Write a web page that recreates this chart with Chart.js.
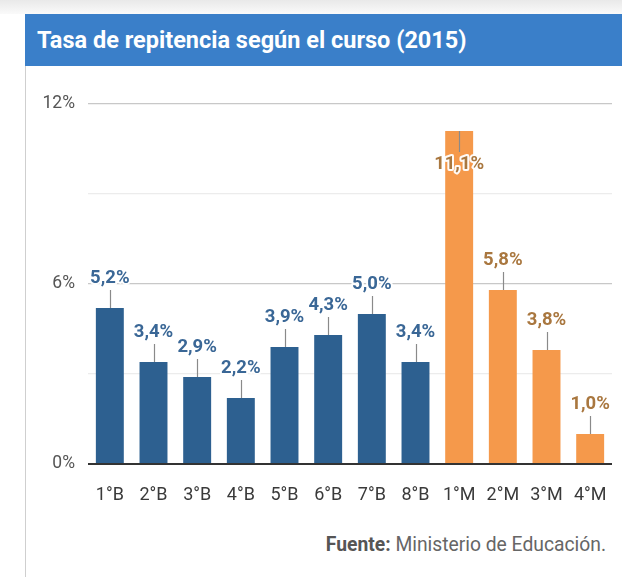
<!DOCTYPE html>
<html>
<head>
<meta charset="utf-8">
<script src="https://cdn.jsdelivr.net/npm/chart.js@4"></script>
<style>
  html, body { margin:0; padding:0; background:#fff; width:622px; height:577px; overflow:hidden; font-family: Roboto, "Noto Sans", sans-serif; }
  #topband { position:absolute; left:0; top:0; width:622px; height:14px; background:linear-gradient(#e9e9e9, #fafafa); }
  #leftline { position:absolute; left:25px; top:66px; width:1px; height:511px; background:#cfcfcf; }
  #header { position:absolute; left:25px; top:14px; width:597px; height:52px; background:#3a7fc9; }
  #title { position:absolute; left:12px; top:0; line-height:52px; color:#fff; font-weight:bold; font-size:23.5px; letter-spacing:0px; }
  #wrap { position:absolute; left:26px; top:66px; width:596px; height:450px; }
  #source { position:absolute; right:16px; top:533px; font-size:19.3px; color:#666; }
  #source b { color:#555; }
</style>
</head>
<body>
<div id="topband"></div>
<div id="header"><div id="title">Tasa de repitencia según el curso (2015)</div></div>
<div id="leftline"></div>
<div id="wrap"><canvas id="c"></canvas></div>
<div id="source"><b>Fuente:</b> Ministerio de Educación.</div>
<script>
const categories = ['1°B','2°B','3°B','4°B','5°B','6°B','7°B','8°B','1°M','2°M','3°M','4°M'];
const values = [5.2, 3.4, 2.9, 2.2, 3.9, 4.3, 5.0, 3.4, 11.1, 5.8, 3.8, 1.0];
const yTickLabels = {0:'0%', 6:'6%', 12:'12%'};

const isMedia = c => c.endsWith('M');
const barColors = categories.map(c => isMedia(c) ? '#f5994b' : '#2d6090');
const textColors = categories.map(c => isMedia(c) ? '#a9773f' : '#3a6796');

const labelPlugin = {
  id: 'valueLabels',
  afterDatasetsDraw(chart) {
    const ctx = chart.ctx;
    const meta = chart.getDatasetMeta(0);
    const top = chart.chartArea.top;
    ctx.save();
    ctx.font = 'bold 18.5px Roboto, sans-serif';
    ctx.textAlign = 'center';
    ctx.textBaseline = 'middle';
    meta.data.forEach((bar, i) => {
      const txt = values[i].toFixed(1).replace('.', ',') + '%';
      let ly, l1, l2;
      if (bar.y - 40 < top) {
        l1 = bar.y; l2 = bar.y + 21; ly = bar.y + 33;
      } else {
        l1 = bar.y; l2 = bar.y - 18; ly = bar.y - 30;
      }
      ctx.strokeStyle = '#8a8a8a';
      ctx.lineWidth = 1.2;
      ctx.beginPath();
      ctx.moveTo(Math.round(bar.x) + 0.5, l1);
      ctx.lineTo(Math.round(bar.x) + 0.5, l2);
      ctx.stroke();
      ctx.lineJoin = 'round';
      ctx.strokeStyle = 'rgba(255,255,255,0.95)';
      ctx.lineWidth = 4;
      ctx.strokeText(txt, bar.x, ly);
      ctx.fillStyle = textColors[i];
      ctx.fillText(txt, bar.x, ly);
    });
    ctx.restore();
  }
};

new Chart(document.getElementById('c'), {
  type: 'bar',
  data: {
    labels: categories,
    datasets: [{
      data: values,
      backgroundColor: barColors,
      borderWidth: 0,
      categoryPercentage: 0.64,
      barPercentage: 1.0
    }]
  },
  options: {
    responsive: true,
    maintainAspectRatio: false,
    animation: false,
    layout: { padding: { top: 38, right: 10, bottom: 0, left: 0 } },
    plugins: { legend: { display: false }, tooltip: { enabled: false } },
    scales: {
      x: {
        afterFit(s) { s.height = 52; },
        grid: { display: false },
        border: { display: false },
        ticks: { color: '#3a3a3a', font: { family: 'Roboto', size: 18 }, padding: 13, maxRotation: 0 }
      },
      y: {
        min: 0, max: 12,
        afterFit(s) { s.width = 62; },
        border: { display: false },
        grid: {
          drawTicks: false,
          color: c => c.tick.value === 0 ? '#333' : (c.tick.value % 6 === 0 ? '#c8c8c8' : '#ececec'),
          lineWidth: c => c.tick.value === 0 ? 2 : 1.3
        },
        ticks: {
          stepSize: 3,
          padding: 13,
          color: '#555',
          font: { family: 'Roboto', size: 17.5 },
          callback: v => yTickLabels[v] !== undefined ? yTickLabels[v] : ''
        }
      }
    }
  },
  plugins: [labelPlugin]
});
</script>
</body>
</html>
